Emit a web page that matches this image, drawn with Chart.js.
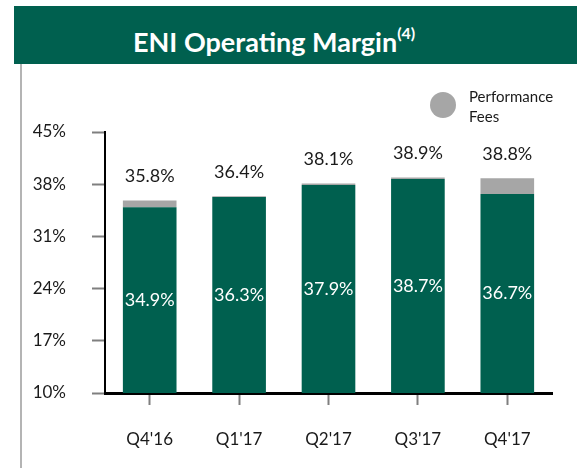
<!DOCTYPE html>
<html>
<head>
<meta charset="utf-8">
<script src="https://cdn.jsdelivr.net/npm/chart.js@4.4.1/dist/chart.umd.min.js"></script>
<style>
  html, body { margin: 0; padding: 0; background: #fff; }
  body { width: 577px; height: 468px; position: relative; overflow: hidden; font-family: Lato, "Open Sans", sans-serif; }
  #banner { position: absolute; left: 14px; top: 6px; width: 563px; height: 58px; background: #00604f; }
  #title { position: absolute; left: 119px; top: 14px; color: #fff; font-weight: bold; font-size: 27px; line-height: 32px; white-space: nowrap; }
  #title sup { font-size: 16px; position: relative; top: -3px; }
  #sideLine { position: absolute; left: 20px; top: 64px; width: 2px; height: 404px; background: #b4b4b4; }
  #wrap { position: absolute; left: 22px; top: 64px; width: 555px; height: 404px; }
</style>
</head>
<body>
<div id="banner"><div id="title">ENI Operating Margin<sup>(4)</sup></div></div>
<div id="sideLine"></div>
<div id="wrap"><canvas id="marginChart"></canvas></div>
<script>
const categories = ["Q4'16", "Q1'17", "Q2'17", "Q3'17", "Q4'17"];
const baseMargin = [34.9, 36.3, 37.9, 38.7, 36.7];
const perfFees = [0.9, 0.1, 0.2, 0.2, 2.1];
const totalMargin = [35.8, 36.4, 38.1, 38.9, 38.8];
const yTicks = [10, 17, 24, 31, 38, 45];

const green = '#00604f';
const gray = '#a6a6a6';

// labels inside bars + totals on top + legend
const labelPlugin = {
    id: 'labelPlugin',
    afterDatasetsDraw(chart) {
        const ctx = chart.ctx;
        const bottom = chart.chartArea.bottom;
        const baseMeta = chart.getDatasetMeta(0);
        const feeMeta = chart.getDatasetMeta(1);
        ctx.save();
        ctx.textAlign = 'center';
        ctx.textBaseline = 'middle';
        ctx.font = '18px Lato, "Open Sans", sans-serif';

        baseMeta.data.forEach((bar, i) => {
            ctx.fillStyle = '#ffffff';
            ctx.fillText(baseMargin[i].toFixed(1) + '%', bar.x, (bar.y + Math.min(bar.base, bottom)) / 2);
        });
        feeMeta.data.forEach((bar, i) => {
            ctx.fillStyle = '#1a1a1a';
            ctx.fillText(totalMargin[i].toFixed(1) + '%', bar.x, bar.y - 24);
        });

        // legend for performance fees
        ctx.fillStyle = gray;
        ctx.beginPath();
        ctx.arc(421, 41, 13, 0, Math.PI * 2);
        ctx.fill();
        ctx.fillStyle = '#1a1a1a';
        ctx.textAlign = 'left';
        ctx.font = '15px Lato, "Open Sans", sans-serif';
        const parts = chart.data.datasets[1].label.split(' ');
        ctx.fillText(parts[0], 447, 33);
        ctx.fillText(parts[1], 447, 53);
        ctx.restore();
    }
};

const ctx = document.getElementById('marginChart').getContext('2d');
new Chart(ctx, {
    type: 'bar',
    data: {
        labels: categories,
        datasets: [
            { label: 'Operating Margin', data: baseMargin, backgroundColor: green, barPercentage: 0.6, categoryPercentage: 1 },
            { label: 'Performance Fees', data: perfFees, backgroundColor: gray, barPercentage: 0.6, categoryPercentage: 1 }
        ]
    },
    options: {
        responsive: true,
        maintainAspectRatio: false,
        animation: false,
        layout: { padding: { top: 68, right: 25, left: 0, bottom: 0 } },
        plugins: {
            legend: { display: false },
            tooltip: { enabled: false }
        },
        scales: {
            x: {
                stacked: true,
                grid: { offset: false, drawOnChartArea: false, drawTicks: true, tickLength: 12, tickColor: '#7f7f7f', tickWidth: 2 },
                border: { color: '#000', width: 3 },
                ticks: { color: '#1a1a1a', padding: 24, font: { size: 17, family: 'Lato, "Open Sans", sans-serif' } },
                afterFit(scale) { scale.height = 75; }
            },
            y: {
                stacked: true,
                min: 10,
                max: 45,
                afterBuildTicks(scale) { scale.ticks = yTicks.map(v => ({ value: v })); },
                grid: { drawOnChartArea: false, drawTicks: true, tickLength: 13, tickColor: '#7f7f7f', tickWidth: 2 },
                border: { color: '#000', width: 2 },
                ticks: {
                    color: '#1a1a1a',
                    padding: 26,
                    font: { size: 17, family: 'Lato, "Open Sans", sans-serif' },
                    callback: v => v + '%'
                },
                afterFit(scale) { scale.width = 83; }
            }
        }
    },
    plugins: [labelPlugin]
});
</script>
</body>
</html>
